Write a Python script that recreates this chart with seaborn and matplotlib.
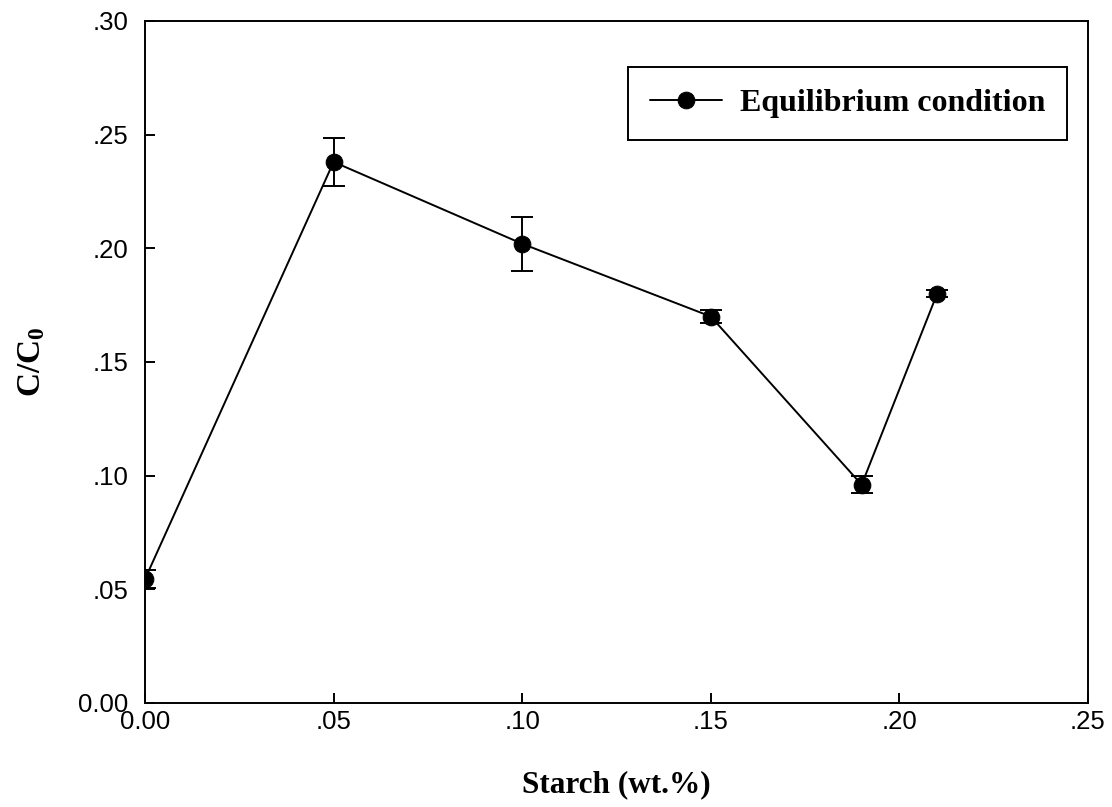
import matplotlib
matplotlib.use("Agg")
import matplotlib.pyplot as plt
import seaborn as sns
import pandas as pd

# Measured data: relative concentration vs starch content
starch = [0.00, 0.05, 0.10, 0.15, 0.19, 0.21]
c_ratio = [0.0545, 0.238, 0.202, 0.170, 0.096, 0.180]
c_err = [0.004, 0.0106, 0.0118, 0.003, 0.0037, 0.0015]

x_ticks = [0.00, 0.05, 0.10, 0.15, 0.20, 0.25]
x_tick_labels = ["0.00", ".05", ".10", ".15", ".20", ".25"]
y_ticks = [0.00, 0.05, 0.10, 0.15, 0.20, 0.25, 0.30]
y_tick_labels = ["0.00", ".05", ".10", ".15", ".20", ".25", ".30"]

sns.set_style("ticks")
plt.rcParams["font.family"] = ["Liberation Sans", "DejaVu Sans"]
plt.rcParams["text.color"] = "black"
plt.rcParams["axes.labelcolor"] = "black"
plt.rcParams["xtick.color"] = "black"
plt.rcParams["ytick.color"] = "black"
plt.rcParams["mathtext.fontset"] = "custom"
plt.rcParams["mathtext.bf"] = "Liberation Serif:bold"
plt.rcParams["mathtext.rm"] = "Liberation Serif:bold"

df = pd.DataFrame({"Starch": starch, "C/C0": c_ratio})

fig = plt.figure(figsize=(11.12, 8.07), dpi=100)
ax = fig.add_axes([0.1304, 0.1289, 0.8480, 0.8451])

ax.errorbar(starch, c_ratio, yerr=c_err, fmt="none", ecolor="black",
            elinewidth=1.4, capsize=8, capthick=1.4, zorder=2)
sns.lineplot(data=df, x="Starch", y="C/C0", ax=ax, color="black",
             linewidth=1.4, marker="o", markersize=12,
             markeredgecolor="black", markerfacecolor="black",
             label="Equilibrium condition", zorder=3)

ax.set_xlim(0, 0.25)
ax.set_ylim(0, 0.30)
ax.set_xticks(x_ticks)
ax.set_xticklabels(x_tick_labels)
ax.set_yticks(y_ticks)
ax.set_yticklabels(y_tick_labels)
ax.tick_params(axis="both", which="major", direction="in", length=7,
               width=1.4, labelsize=18.5, colors="black",
               top=False, right=False)
ax.tick_params(axis="y", pad=12)
ax.tick_params(axis="x", pad=5)
for side in ["left", "bottom", "top", "right"]:
    ax.spines[side].set_visible(True)
    ax.spines[side].set_linewidth(1.4)
    ax.spines[side].set_color("black")

ax.set_xlabel("Starch (wt.%)", fontfamily="Liberation Serif",
              fontweight="bold", fontsize=22.5, labelpad=26)
ax.set_ylabel(r"$\mathbf{C/C_0}$", fontsize=24, labelpad=22)

leg = ax.legend(loc="upper right", bbox_to_anchor=(0.9775, 0.9325),
                frameon=True, fancybox=False, edgecolor="black",
                framealpha=1, borderpad=0.68, handlelength=2.25,
                handletextpad=0.55, borderaxespad=0,
                prop={"family": "Liberation Serif", "weight": "bold",
                      "size": 23})
leg.get_frame().set_linewidth(1.4)
for t in leg.get_texts():
    t.set_color("black")

fig.savefig("out.png", dpi=100, facecolor="white")
